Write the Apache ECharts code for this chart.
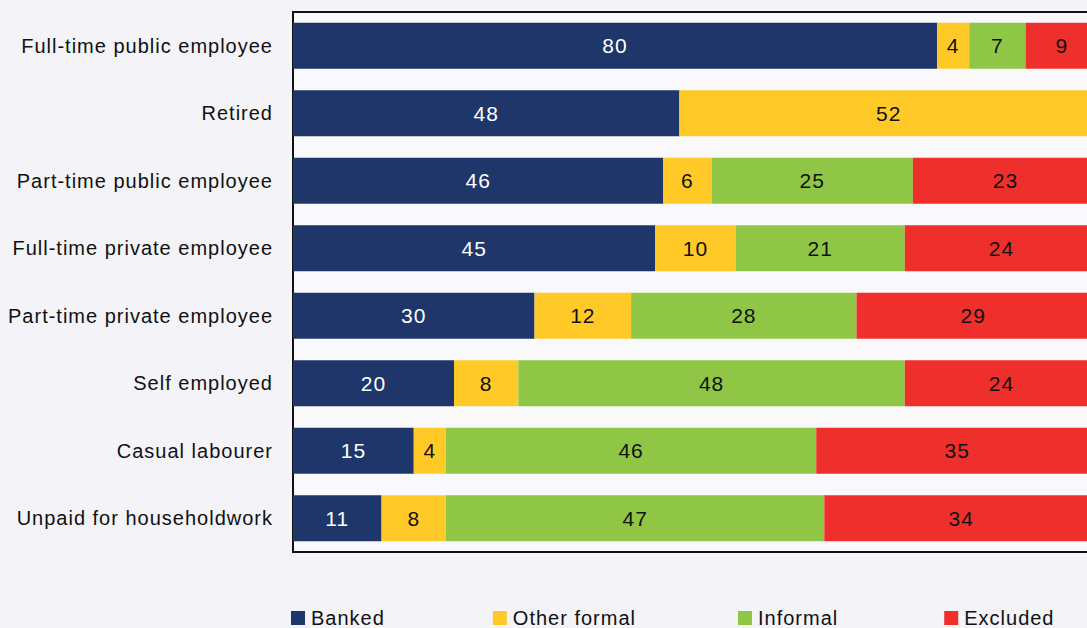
<!DOCTYPE html>
<html>
<head>
<meta charset="utf-8">
<script src="https://cdn.jsdelivr.net/npm/echarts@6/dist/echarts.min.js"></script>
<style>
  html, body { margin: 0; padding: 0; background: #f3f3f8; }
  #chart { width: 1087px; height: 628px; }
  /* slightly tracked-out lettering for all chart text */
  #chart text { letter-spacing: 1px; }
</style>
</head>
<body>
<div id="chart"></div>
<script>
// Access strand by employment type (percent of each group)
const categories = [
  'Full-time public employee',
  'Retired',
  'Part-time public employee',
  'Full-time private employee',
  'Part-time private employee',
  'Self employed',
  'Casual labourer',
  'Unpaid for householdwork'
];
const seriesNames = ['Banked', 'Other formal', 'Informal', 'Excluded'];
const banked      = [80, 48, 46, 45, 30, 20, 15, 11];
const otherFormal = [4, 52, 6, 10, 12, 8, 4, 8];
const informal    = [7, null, 25, 21, 28, 48, 46, 47];
const excluded    = [9, null, 23, 24, 29, 24, 35, 34];

const colors = ['#1e366a', '#ffc928', '#8fc645', '#ef2f2b'];
const labelColors = ['#ffffff', '#111111', '#111111', '#111111'];
const values = [banked, otherFormal, informal, excluded];

const chart = echarts.init(document.getElementById('chart'), null, { renderer: 'svg' });

const series = seriesNames.map((name, i) => ({
  name: name,
  type: 'bar',
  stack: 'total',
  barWidth: 46,
  data: values[i],
  itemStyle: { color: colors[i] },
  label: {
    show: true,
    position: 'inside',
    color: labelColors[i],
    fontFamily: 'Liberation Sans, Arial, sans-serif',
    fontSize: 21,
    formatter: p => (p.value == null ? '' : String(p.value))
  },
  emphasis: { disabled: true }
}));

chart.setOption({
  backgroundColor: '#f3f3f8',
  animation: false,
  color: colors,
  grid: {
    left: 293,
    right: -11,
    top: 12,
    bottom: 76,
    outerBoundsMode: 'none',
    containLabel: false,
    show: true,
    backgroundColor: '#f9f9fc',
    borderColor: '#111111',
    borderWidth: 2
  },
  xAxis: {
    type: 'value',
    min: 0,
    max: 100,
    axisLabel: { show: false },
    axisTick: { show: false },
    splitLine: { show: false },
    axisLine: { show: true, lineStyle: { color: '#111111', width: 2 } }
  },
  yAxis: {
    type: 'category',
    inverse: true,
    data: categories,
    axisTick: { show: false },
    axisLine: { show: true, lineStyle: { color: '#111111', width: 2 } },
    axisLabel: {
      margin: 20,
      color: '#111111',
      fontFamily: 'Liberation Sans, Arial, sans-serif',
      fontSize: 20
    }
  },
  legend: {
    left: 286,
    top: 603,
    itemWidth: 14,
    itemHeight: 14,
    itemGap: 114,
    icon: 'rect',
    data: seriesNames,
    textStyle: {
      color: '#111111',
      fontFamily: 'Liberation Sans, Arial, sans-serif',
      fontSize: 20,
      padding: [0, 0, 0, 1]
    }
  },
  series: series
});
</script>
</body>
</html>
